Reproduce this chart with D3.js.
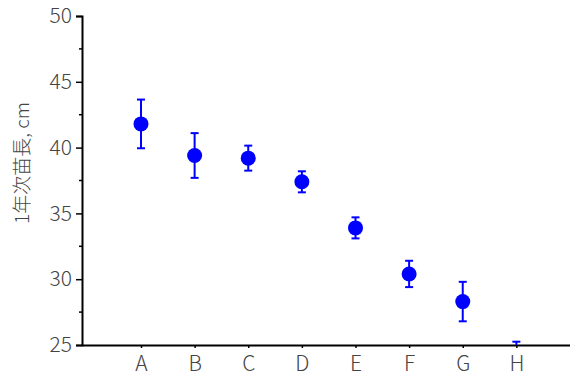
<!DOCTYPE html>
<html>
<head>
<meta charset="utf-8">
<script src="https://cdn.jsdelivr.net/npm/d3@7"></script>
<style>
  html, body { margin: 0; background: #fff; overflow: hidden; }
  svg { display: block; }
</style>
</head>
<body>
<div id="chart"></div>
<script>
// dades
const categories = ["A", "B", "C", "D", "E", "F", "G", "H"];
const means = [41.8, 39.4, 39.2, 37.4, 33.9, 30.4, 28.3, 24.0];
const errors = [1.85, 1.7, 0.95, 0.8, 0.8, 1.0, 1.5, 1.25];
const yTicks = [25, 30, 35, 40, 45, 50];

const data = categories.map((c, i) => ({ cat: c, i: i + 1, mean: means[i], err: errors[i] }));

const W = 570, H = 379;
const svg = d3.select("#chart").append("svg")
    .attr("width", W).attr("height", H);

const x = d3.scaleLinear().domain([-0.1, 9]).range([82, 570]);
const y = d3.scaleLinear().domain([25, 50]).range([345, 16]);

// clip
svg.append("clipPath").attr("id", "plot")
    .append("rect").attr("x", 82).attr("y", 0).attr("width", W - 82).attr("height", 345);

const textColor = "#444";
const font = "'Noto Sans CJK JP', 'Noto Sans', sans-serif";

// Eix Y
const yAxis = svg.append("g")
    .attr("transform", "translate(82,0)")
    .call(d3.axisLeft(y).tickValues(yTicks).tickSize(6).tickPadding(4));
yAxis.select(".domain").attr("stroke-width", 2);
yAxis.selectAll(".tick line").attr("stroke-width", 1.5);
yAxis.selectAll("text")
    .style("font-size", "21px").style("font-family", font).style("font-weight", 300)
    .attr("fill", textColor);

// ticks menors
svg.append("g").selectAll("line")
    .data(d3.range(27.5, 50, 5))
    .enter().append("line")
    .attr("x1", 79).attr("x2", 82)
    .attr("y1", d => y(d)).attr("y2", d => y(d))
    .attr("stroke", "#000").attr("stroke-width", 1.5);

// Eix X
const xAxis = svg.append("g")
    .attr("transform", "translate(0,345)")
    .call(d3.axisBottom(x).tickValues(data.map(d => d.i)).tickFormat((d, i) => categories[i])
        .tickSize(3).tickPadding(8).tickSizeOuter(0));
xAxis.select(".domain").attr("stroke-width", 2);
xAxis.selectAll(".tick line").attr("stroke-width", 1.5);
xAxis.selectAll("text")
    .style("font-size", "21px").style("font-family", font).style("font-weight", 300)
    .attr("fill", textColor);

// Titol eix Y
svg.append("text")
    .attr("transform", "translate(29,163) rotate(-90)")
    .attr("text-anchor", "middle")
    .style("font-size", "19px").style("font-family", font).style("font-weight", 300)
    .attr("fill", textColor)
    .text("1年次苗長, cm");

// punts i barres d'error
const color = "#0000ff";
const g = svg.append("g").attr("clip-path", "url(#plot)");

g.selectAll(".err")
    .data(data).enter().append("line")
    .attr("x1", d => x(d.i)).attr("x2", d => x(d.i))
    .attr("y1", d => y(d.mean + d.err)).attr("y2", d => y(d.mean - d.err))
    .attr("stroke", color).attr("stroke-width", 2);

g.selectAll(".capTop")
    .data(data).enter().append("line")
    .attr("x1", d => x(d.i) - 4).attr("x2", d => x(d.i) + 4)
    .attr("y1", d => y(d.mean + d.err)).attr("y2", d => y(d.mean + d.err))
    .attr("stroke", color).attr("stroke-width", 2);

g.selectAll(".capBot")
    .data(data).enter().append("line")
    .attr("x1", d => x(d.i) - 4).attr("x2", d => x(d.i) + 4)
    .attr("y1", d => y(d.mean - d.err)).attr("y2", d => y(d.mean - d.err))
    .attr("stroke", color).attr("stroke-width", 2);

g.selectAll("circle")
    .data(data).enter().append("circle")
    .attr("cx", d => x(d.i)).attr("cy", d => y(d.mean))
    .attr("r", 7.5).attr("fill", color);
</script>
</body>
</html>
